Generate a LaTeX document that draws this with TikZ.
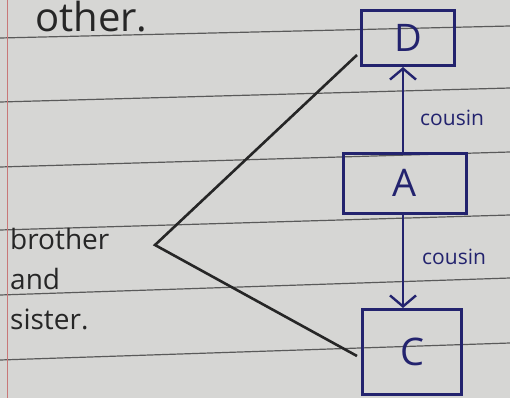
\documentclass[tikz,border=0pt]{standalone}
\usepackage{fontspec}
\setmainfont{Open Sans}
\usetikzlibrary{arrows.meta}
\definecolor{paper}{HTML}{D6D6D4}
\definecolor{rule}{HTML}{5A5A5A}
\definecolor{ink}{HTML}{23236E}
\definecolor{margin}{HTML}{C87878}
\begin{document}
\begin{tikzpicture}[x=1pt,y=-1pt,
  box/.style={draw=ink, line width=3pt, minimum width=#1, inner sep=0pt, font=\fontsize{38}{38}\selectfont, text=ink},
  link/.style={draw=ink, line width=2.4pt, -{Straight Barb[length=11pt,width=26pt,line width=2.4pt]}},
  lbl/.style={text=ink, font=\fontsize{21}{21}\selectfont, inner sep=0pt},
  pen/.style={draw=black!85, line width=2.6pt}]
\fill[paper] (0,0) rectangle (510,398);
\useasboundingbox (0,0) rectangle (510,398);
% ruled lines
\foreach \l/\r in {38/26, 102/88, 167/152, 230/215, 295/278, 360/343}
  \draw[rule, line width=1.2pt] (0,\l) -- (510,\r);
\draw[margin, line width=1pt] (7,0) -- (7,398);
% heading fragment
\node[anchor=base west, inner sep=0pt, text=black!85, font=\fontsize{40}{40}\selectfont] (oth) at (35,32) {other.};
% boxes
\node[box, minimum width=93pt, minimum height=55pt] (D) at (408,38) {D};
\node[box, minimum width=123pt, minimum height=60pt] (A) at (405,183) {A};
\node[box, minimum width=99pt, minimum height=85pt] (C) at (412,352) {C};
% arrows
\draw[link] (A.north -| 403,0) -- (D.south -| 403,0) node[lbl, pos=0.4, anchor=west, xshift=16pt] (l1) {cousin};
\draw[link] (A.south -| 403,0) -- (C.north -| 403,0) node[lbl, pos=0.45, anchor=west, xshift=18pt] (l2) {cousin};
% brother and sister
\node[anchor=north west, align=left, inner sep=0pt, text=black!85, font=\fontsize{28}{40}\selectfont] (bs) at (10,228) {brother\\and\\sister.};
\coordinate (tip) at (155,245);
\coordinate (dEnd) at (357,55);
\coordinate (cEnd) at (357,356);
\draw[pen] (dEnd) -- (tip) -- (cEnd);
\end{tikzpicture}
\end{document}
